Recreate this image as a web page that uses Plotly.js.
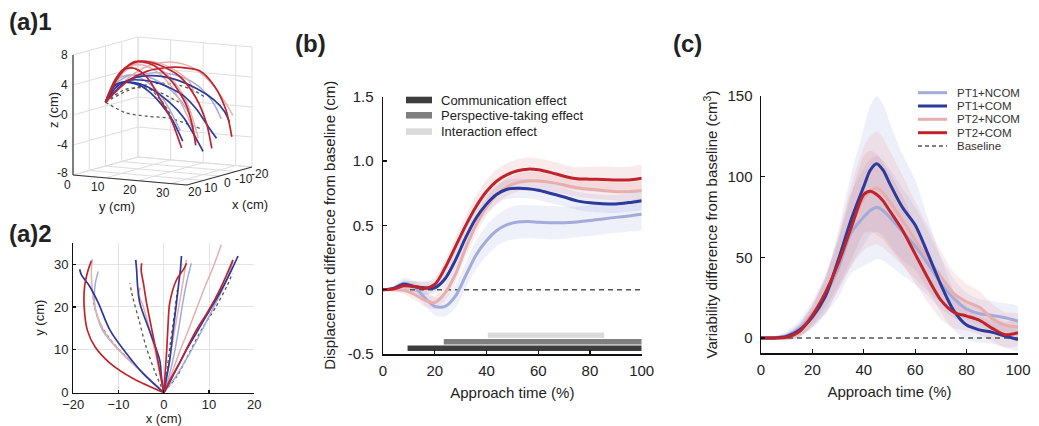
<!DOCTYPE html>
<html>
<head>
<meta charset="utf-8">
<script src="https://cdn.plot.ly/plotly-3.0.1.min.js"></script>
<style>html,body{margin:0;padding:0;background:#fff;}#plot{width:1039px;height:426px;}</style>
</head>
<body>
<div id="plot"></div>
<script>
// ---------- (b) displacement difference from baseline ----------
const timeB = [0,4,8,12,16,20,24,28,32,36,40,44,48,52,56,60,65,70,75,80,85,90,95,100];
const dispPT1NCOM = [0,0.01,0.05,0.02,-0.06,-0.13,-0.13,-0.05,0.11,0.27,0.38,0.46,0.505,0.526,0.529,0.525,0.521,0.521,0.527,0.537,0.55,0.562,0.573,0.586];
const dispPT1COM  = [0,0.01,0.043,0.025,0.015,0.015,0.085,0.23,0.406,0.557,0.665,0.742,0.781,0.788,0.785,0.773,0.747,0.72,0.69,0.675,0.668,0.666,0.677,0.692];
const dispPT2NCOM = [0,0,-0.005,-0.035,-0.08,-0.1,-0.025,0.12,0.325,0.505,0.642,0.738,0.798,0.832,0.844,0.845,0.834,0.813,0.793,0.78,0.77,0.762,0.762,0.77];
const dispPT2COM  = [0,0.005,0.03,0.025,0.01,0.04,0.17,0.335,0.5,0.647,0.763,0.845,0.894,0.924,0.937,0.932,0.91,0.882,0.862,0.859,0.857,0.853,0.853,0.866];
const semPT1NCOM = [0,0.02,0.04,0.05,0.06,0.07,0.08,0.09,0.1,0.11,0.12,0.12,0.125,0.13,0.13,0.13,0.13,0.125,0.12,0.12,0.12,0.12,0.12,0.12];
const semPT1COM  = [0,0.01,0.03,0.04,0.05,0.05,0.06,0.07,0.07,0.075,0.075,0.075,0.075,0.075,0.075,0.075,0.075,0.07,0.07,0.07,0.07,0.07,0.07,0.07];
const semPT2NCOM = [0,0.01,0.03,0.04,0.05,0.05,0.06,0.065,0.07,0.07,0.07,0.07,0.07,0.07,0.07,0.07,0.07,0.07,0.07,0.07,0.07,0.07,0.07,0.07];
const semPT2COM  = [0,0.01,0.03,0.04,0.05,0.05,0.06,0.07,0.08,0.085,0.09,0.09,0.09,0.09,0.09,0.09,0.09,0.09,0.09,0.095,0.1,0.1,0.1,0.1];
const effectNames = ['Communication effect','Perspective-taking effect','Interaction effect'];
const effectStart = [9.5, 23.5, 40.5];
const effectEnd   = [100, 100, 85.5];

// ---------- (c) variability difference from baseline ----------
const timeC = [0,5,10,15,20,25,30,35,40,42.5,45,47.5,50,55,60,65,70,75,80,85,90,95,100];
const varPT1NCOM = [0,0,1.5,6,15,27,43,65,75,79,81,79,75,66,57,46,34,24.6,18,15,14,12.5,10.5];
const varPT1COM  = [0,0,1,5,13,25.6,48,73,94,104,108,104,96,81,70,52,33,17,8,5,3.5,1.2,-1];
const varPT2NCOM = [0,0,1,5,14,27,46,69,86.6,91,93,90,84.5,73,60.7,49,38,27.7,22.5,19,12,8,7];
const varPT2COM  = [0,0,0.5,4,14,28,46,68,89,91,89,85,79,67,52,37,23.5,16,13.6,11,6,2,3.3];
const sdPT1NCOM = [0.5,1,3,5,8,12,18,25,30,32,32,31,30,27,24,20,16,12,10,9,9,9,9];
const sdPT1COM  = [0.5,1,2,4,7,11,18,28,36,40,42,41,38,33,28,22,17,12,9,8,7,7,7];
const sdPT2NCOM = [0.5,1,2,4,7,11,17,25,32,34,35,34,32,28,24,20,16,13,11,10,9,8,8];
const sdPT2COM  = [0.5,1,2,4,6,9,14,20,24,25,25,24,23,21,18,15,12,10,9,9,8,8,8];
const conditionNames = ['PT1+NCOM','PT1+COM','PT2+NCOM','PT2+COM'];

// ---------- (a) example hand trajectories (cm) ----------
const pt2comX = [[0,-6.8,-11.9,-15.2,-16.9,-17.6,-17.5,-16.7,-16],[0,-0.8,-1.6,-2.7,-3.8,-4.5,-5,-4.9],[0,0.3,0.6,0.9,1.3,2.8,4.5,5],[0,1.5,3.5,5.3,7.2,9.5,11.6,13.6,15.3]];
const pt2comY = [[0,3.3,6.9,10.7,14.6,20.1,24.8,28.7,30.8],[0,4.5,9.2,15,20.9,25.5,28.5,30.2],[0,4.5,9.2,15,20.9,26.3,29,30.2],[0,3.2,6.9,10.8,14.6,18.5,22.4,26.8,31]];
const pt2comZ = [[0.5,3,4.2,4.6,4.7,4.4,2.5,-0.5,-3.9],[0.5,4.8,6.2,5.9,4.5,1.8,-1.5,-4.8],[0.5,4.3,6.3,6.1,4.2,1.2,-1.5,-3.8],[0.5,3.3,5.2,5.8,5.5,4.5,2.6,0.2,-3.5]];
const pt1comX = [[0,-4.6,-8.3,-11.9,-14.5,-16.5,-18.2,-18.6],[0,-0.5,-0.9,-3,-5.3,-5.8,-6,-6.2],[0,0.6,1.3,2,2.8,3.3,3.7,3.9],[0,1.3,3,5,7.5,10,12.5,14.7,16.4]];
const pt1comY = [[0,4.5,9.2,14.6,21,25,27.5,28.8],[0,3.5,7.6,14,20.9,25,28.5,31],[0,3.5,7.6,14,20.9,25.5,29,31.9],[0,2.5,6,10,14.5,19,23.5,28,31.9]];
const pt1comZ = [[0.5,3.3,3.9,3.5,2.2,0.8,-0.8,-2.2],[0.5,2.8,3.7,3.5,2,0.2,-2,-3.5],[0.5,3,3.6,3.2,1.5,-0.3,-2.5,-4.6],[0.5,2.5,3.5,3.8,3.7,3,1.8,0,-2.5]];
const pt1ncomX = [[0,-5.3,-10,-13.5,-15.2,-15.2,-14.5],[0,1.2,2.3,3.3,4.2,5.1,5.8,6.1],[0,2.5,4.8,7.2,9.6,12,14,15.3]];
const pt1ncomY = [[0,5.3,10,14.5,20,25,28.3],[0,4,9,15,21,26,29,30.2],[0,3.5,7.5,12,17,22,26.5,30.6]];
const pt1ncomZ = [[0.5,3.5,4.2,3.9,2.8,0.8,-1.5],[0.5,3.3,4.6,4.6,3.6,1.8,0,-2.2],[0.5,3,4.5,5,4.6,3.5,1.5,-1.2]];
const pt2ncomX = [[0,-5,-9.5,-13,-15,-15.8,-16,-15.8],[0,-1,-2,-3.2,-4.5,-5.5,-5.2],[0,0.9,1.8,2.8,3.8,4.5,5],[0,1.6,3.3,5.2,7.2,9,10.8,12.2,12.7]];
const pt2ncomY = [[0,5,9.5,14,19,24,28.5,31.2],[0,5,10,15,20,23,24.5],[0,5,11,17,23,27.5,31],[0,4,9,14,19.5,24.5,29,33,34.5]];
const pt2ncomZ = [[0.5,3.8,5.3,5.6,5,3.3,0.8,-1],[0.5,4.6,6.2,6.1,5,3.8,2.5],[0.5,4.5,6.3,6.1,4.3,1.5,-2.8],[0.5,4,5.8,6.3,5.7,4.2,1.8,-1.2,-2.8]];
const baseX = [[0,-4,-8,-11.5,-14,-15.3,-15.6],[0,-2,-4,-5.5,-6.8,-7.5],[0,0.8,1.5,2.3,3],[0,3,5.5,8.5,11.5,14,15.2]];
const baseY = [[0,4,8,12,16,20,22.4],[0,5,11,17,22,25.5],[0,6,12,18,24],[0,4,9,15,20,25,27.9]];
const baseZ = [[0.5,1.8,2.6,2.8,2.5,1.8,1.2],[0.5,-0.8,-1.2,-1.3,-2,-2.5],[0.5,2.4,3,2.6,1.6],[0.5,2.5,3.8,4,3.5,2,0.5]];
// 3-D axes of panel (a)1
const ticks3X = [-20,-10,0,10,20];
const ticks3Y = [0,10,20,30];
const ticks3Z = [-8,-4,0,4,8];
const range3X = [-20,20], range3Y = [0,35], range3Z = [-8,8];

// ---------- styling ----------
const W = 1039, H = 426;
const FONT = 'Liberation Sans, Arial, Helvetica, sans-serif';
const C = {pt1ncom:'#a3abdb', pt1com:'#2b3a9b', pt2ncom:'#e6aeae', pt2com:'#c1232b', base:'#555555'};
const BAND = {pt1ncom:'rgba(150,162,222,0.16)', pt1com:'rgba(70,90,190,0.09)', pt2ncom:'rgba(225,150,150,0.18)', pt2com:'rgba(200,60,70,0.10)'};
const EFFECT_COLORS = ['#3d3d3d','#7f7f7f','#dadada'];
const EFFECT_LEVELS = [-0.455,-0.405,-0.355];
const PX = v => v / W, PY = v => 1 - v / H;

// orthographic view of the 3-D box (screen offsets per data unit, from corner x=20,y=0,z=-8)
const VIEW = {u0:73, v0:175, ux:-1.625, vx:0.45, uy:3.257, vy:0.2857, vz:-7.5};
function proj(x, y, z) {
  return [VIEW.u0 + (x - range3X[1]) * VIEW.ux + (y - range3Y[0]) * VIEW.uy,
          VIEW.v0 + (x - range3X[1]) * VIEW.vx + (y - range3Y[0]) * VIEW.vy + (z - range3Z[0]) * VIEW.vz];
}

const traces = [];
function band(x, m, e, color, xa, ya) {
  const up = m.map((v,i)=>v+e[i]), lo = m.map((v,i)=>v-e[i]);
  traces.push({x: x.concat(x.slice().reverse()), y: up.concat(lo.slice().reverse()), type:'scatter', mode:'lines',
    fill:'toself', fillcolor: color, line:{width:0, shape:'spline', smoothing:0.6}, hoverinfo:'skip', xaxis:xa, yaxis:ya});
}
function line(x, y, color, width, xa, ya, dash) {
  traces.push({x, y, type:'scatter', mode:'lines', line:{color, width, shape:'spline', smoothing:0.8, dash: dash||'solid'}, xaxis:xa, yaxis:ya});
}

// (b)
band(timeB, dispPT1NCOM, semPT1NCOM, BAND.pt1ncom, 'x', 'y');
band(timeB, dispPT2NCOM, semPT2NCOM, BAND.pt2ncom, 'x', 'y');
band(timeB, dispPT1COM, semPT1COM, BAND.pt1com, 'x', 'y');
band(timeB, dispPT2COM, semPT2COM, BAND.pt2com, 'x', 'y');
traces.push({x:[0,100], y:[0,0], type:'scatter', mode:'lines', line:{color:'#555', width:1.5, dash:'5px,4px'}, xaxis:'x', yaxis:'y'});
line(timeB, dispPT1NCOM, C.pt1ncom, 3, 'x', 'y');
line(timeB, dispPT2NCOM, C.pt2ncom, 3, 'x', 'y');
line(timeB, dispPT1COM, C.pt1com, 3, 'x', 'y');
line(timeB, dispPT2COM, C.pt2com, 3, 'x', 'y');
effectNames.forEach((n,i)=>{
  traces.push({x:[effectStart[i], effectEnd[i]], y:[EFFECT_LEVELS[i], EFFECT_LEVELS[i]], name:n, type:'scatter', mode:'lines',
    line:{color:EFFECT_COLORS[i], width:5.5}, xaxis:'x', yaxis:'y'});
});

// (c)
band(timeC, varPT1NCOM, sdPT1NCOM, BAND.pt1ncom, 'x2', 'y2');
band(timeC, varPT1COM, sdPT1COM, BAND.pt1com, 'x2', 'y2');
band(timeC, varPT2NCOM, sdPT2NCOM, BAND.pt2ncom, 'x2', 'y2');
band(timeC, varPT2COM, sdPT2COM, BAND.pt2com, 'x2', 'y2');
traces.push({x:[0,100], y:[0,0], type:'scatter', mode:'lines', line:{color:'#555', width:1.5, dash:'5px,4px'}, xaxis:'x2', yaxis:'y2'});
line(timeC, varPT1NCOM, C.pt1ncom, 3, 'x2', 'y2');
line(timeC, varPT2NCOM, C.pt2ncom, 3, 'x2', 'y2');
line(timeC, varPT1COM, C.pt1com, 3, 'x2', 'y2');
line(timeC, varPT2COM, C.pt2com, 3, 'x2', 'y2');

// (a)1 box: grid on back panes + axis edges, projected
(function(){
  const gu = [], gv = [];
  function seg(a, b) { const p = proj(...a), q = proj(...b); gu.push(p[0], q[0], null); gv.push(p[1], q[1], null); }
  const [x0, x1] = range3X, [y0, y1] = range3Y, [z0, z1] = range3Z;
  ticks3X.forEach(t => { seg([t,y0,z0],[t,y1,z0]); seg([t,y0,z0],[t,y0,z1]); });     // floor + side pane
  ticks3Y.concat([y1]).forEach(t => { seg([x0,t,z0],[x0,t,z1]); });                  // back pane verticals
  ticks3Y.forEach(t => { seg([x1,t,z0],[x0,t,z0]); });                               // floor
  ticks3Z.forEach(t => { seg([x0,y0,t],[x0,y1,t]); seg([x1,y0,t],[x0,y0,t]); });     // back + side panes
  traces.push({x:gu, y:gv, type:'scatter', mode:'lines', line:{color:'#dedede', width:1}, xaxis:'x4', yaxis:'y4', hoverinfo:'skip'});
  const au = [], av = [];
  [[[x1,y0,z0],[x1,y0,z1]], [[x1,y0,z0],[x1,y1,z0]], [[x1,y1,z0],[x0,y1,z0]]].forEach(([a,b]) => {
    const p = proj(...a), q = proj(...b); au.push(p[0], q[0], null); av.push(p[1], q[1], null);
  });
  traces.push({x:au, y:av, type:'scatter', mode:'lines', line:{color:'#333', width:1.2}, xaxis:'x4', yaxis:'y4', hoverinfo:'skip'});
})();

// (a)2 and (a)1 trajectories
const groups = [
  [baseX, baseY, baseZ, C.base, 'dot', 1.3],
  [pt1ncomX, pt1ncomY, pt1ncomZ, C.pt1ncom, 'solid', 1.5],
  [pt2ncomX, pt2ncomY, pt2ncomZ, C.pt2ncom, 'solid', 1.5],
  [pt1comX, pt1comY, pt1comZ, C.pt1com, 'solid', 1.7],
  [pt2comX, pt2comY, pt2comZ, C.pt2com, 'solid', 1.7]
];
groups.forEach(([gx, gy, gz, col, dash, w]) => {
  gx.forEach((xs, k) => {
    line(xs, gy[k], col, w, 'x3', 'y3', dash);
    const pts = xs.map((xv, i) => proj(xv, gy[k][i], gz[k][i]));
    line(pts.map(p=>p[0]), pts.map(p=>p[1]), col, w, 'x4', 'y4', dash);
  });
});

// ---------- layout ----------
const axBase = {showline:true, linecolor:'#111', linewidth:1.5, ticks:'inside', ticklen:4, tickwidth:1.2, tickcolor:'#111',
  showgrid:false, zeroline:false, automargin:false, tickfont:{size:15, color:'#222'}};

function ann(text, x, y, size, xanchor, extra) {
  return Object.assign({text, x:PX(x), y:PY(y), xref:'paper', yref:'paper', xanchor: xanchor||'left', yanchor:'middle',
    showarrow:false, font:{size, family:FONT, color:'#222'}}, extra||{});
}
const annotations = [
  ann('<b>(a)1</b>', 7, 21, 24),
  ann('<b>(a)2</b>', 7, 233, 24),
  ann('<b>(b)</b>', 293, 43.5, 24),
  ann('<b>(c)</b>', 671, 43.5, 24)
];
// 3-D tick labels and titles, placed at projected tick positions
function ann3(text, p, dx, dy, xanchor, extra) {
  return Object.assign({text, x:p[0], y:p[1], xref:'x4', yref:'y4', xshift:dx, yshift:-dy, xanchor:xanchor||'center', yanchor:'middle',
    showarrow:false, font:{size:12, family:FONT, color:'#222'}}, extra||{});
}
ticks3Z.forEach(t => annotations.push(ann3(String(t), proj(range3X[1], range3Y[0], t), -3, t === range3Z[0] ? -2 : 0, 'right')));
ticks3Y.forEach(t => annotations.push(ann3(String(t), proj(range3X[1], t, range3Z[0]), t === 0 ? -6 : -8, t === 0 ? 10 : 9, 'center')));
ticks3X.forEach(t => annotations.push(ann3(String(t), proj(t, range3Y[1], range3Z[0]), 8, 7, 'center')));
annotations.push(ann3('z (cm)', proj(range3X[1], range3Y[0], 0), -20, -5, 'center', {textangle:-90, font:{size:13, family:FONT, color:'#222'}}));
annotations.push(ann3('y (cm)', proj(range3X[1], 17.5, range3Z[0]), -13, 26, 'center', {font:{size:13, family:FONT, color:'#222'}}));
annotations.push(ann3('x (cm)', proj(0, range3Y[1], range3Z[0]), 30, 28, 'center', {font:{size:13, family:FONT, color:'#222'}}));

const shapes = [];
const legB_y = [100, 115.3, 131.6];
effectNames.forEach((n,i)=>{
  shapes.push({type:'rect', xref:'paper', yref:'paper', x0:PX(406), x1:PX(432), y0:PY(legB_y[i]-3.3), y1:PY(legB_y[i]+3.3),
    fillcolor:EFFECT_COLORS[i], line:{width:0}});
  annotations.push(ann(n, 439, legB_y[i], 13));
});
const legC_y = [92.7, 106, 119.3, 132.7, 146];
const legC_col = [C.pt1ncom, C.pt1com, C.pt2ncom, C.pt2com, C.base];
conditionNames.concat(['Baseline']).forEach((n,i)=>{
  shapes.push({type:'line', xref:'paper', yref:'paper', x0:PX(918), x1:PX(947), y0:PY(legC_y[i]), y1:PY(legC_y[i]),
    line:{color:legC_col[i], width: i===4 ? 1.5 : 3, dash: i===4 ? '4px,3px' : 'solid'}});
  annotations.push(ann(n, 955, legC_y[i], 11.5, 'left', {font:{size:11.5, family:FONT, color:'#333'}}));
});

const layout = {
  width: W, height: H, margin:{l:0, r:0, t:0, b:0}, paper_bgcolor:'#fff', plot_bgcolor:'rgba(0,0,0,0)',
  showlegend:false, font:{family:FONT, size:15, color:'#222'},
  xaxis: Object.assign({}, axBase, {domain:[PX(383), PX(641.7)], range:[0,100], anchor:'y', tickvals:[0,20,40,60,80,100],
    ticklabelstandoff:2, title:{text:'Approach time (%)', font:{size:15}, standoff:10}}),
  yaxis: Object.assign({}, axBase, {domain:[PY(354), PY(96.7)], range:[-0.5,1.5], anchor:'x', tickvals:[-0.5,0,0.5,1,1.5],
    ticklabelstandoff:5, ticktext:['-0.5','0','0.5','1.0','1.5'], title:{text:'Displacement difference from baseline (cm)', font:{size:15}, standoff:8}}),
  xaxis2: Object.assign({}, axBase, {domain:[PX(761), PX(1018)], range:[0,100], anchor:'y2', tickvals:[0,20,40,60,80,100],
    ticklabelstandoff:2, title:{text:'Approach time (%)', font:{size:15}, standoff:10}}),
  yaxis2: Object.assign({}, axBase, {domain:[PY(353), PY(96)], range:[-9.3,150], anchor:'x2', tickvals:[0,50,100,150],
    ticklabelstandoff:4, title:{text:'Variability difference from baseline (cm<sup>3</sup>)', font:{size:15}, standoff:6}}),
  xaxis3: Object.assign({}, axBase, {domain:[PX(73.3), PX(254.3)], range:[-20,20], anchor:'y3', tickvals:[-20,-10,0,10,20],
    showgrid:true, gridcolor:'#e3e3e3', gridwidth:1, linewidth:1.2, ticklen:3, tickfont:{size:13, color:'#222'},
    ticklabelstandoff:-1, title:{text:'x (cm)', font:{size:13}, standoff:5}}),
  yaxis3: Object.assign({}, axBase, {domain:[PY(392.7), PY(242.7)], range:[0,35], anchor:'x3', tickvals:[0,10,20,30],
    showgrid:true, gridcolor:'#e3e3e3', gridwidth:1, linewidth:1.2, ticklen:3, tickfont:{size:13, color:'#222'},
    ticklabelstandoff:1, title:{text:'y (cm)', font:{size:13}, standoff:6}}),
  xaxis4: {domain:[0, PX(300)], range:[0,300], anchor:'y4', visible:false, fixedrange:true},
  yaxis4: {domain:[PY(225), 1], range:[225,0], anchor:'x4', visible:false, fixedrange:true},
  annotations, shapes
};

Plotly.newPlot('plot', traces, layout, {staticPlot:true, displayModeBar:false});
</script>
</body>
</html>
